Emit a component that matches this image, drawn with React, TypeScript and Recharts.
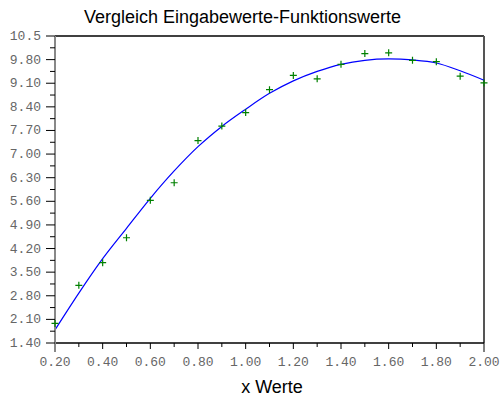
import React from "react";
import {
  ComposedChart,
  XAxis,
  YAxis,
  Line,
  Scatter,
  ReferenceLine,
} from "recharts";

// x positions (0.2 .. 2.0)
const xValues = [
  0.2, 0.3, 0.4, 0.5, 0.6, 0.7, 0.8, 0.9, 1.0, 1.1, 1.2, 1.3, 1.4, 1.5, 1.6,
  1.7, 1.8, 1.9, 2.0,
];

// green crosses: Eingabewerte
const inputValues = [
  1.98, 3.11, 3.78, 4.52, 5.63, 6.15, 7.4, 7.83, 8.23, 8.91, 9.33, 9.23, 9.66,
  9.98, 10.0, 9.78, 9.74, 9.31, 9.11,
];

// blue curve: Funktionswerte
const functionValues = [
  1.79, 2.88, 3.9, 4.8, 5.69, 6.5, 7.22, 7.82, 8.33, 8.8, 9.17, 9.45, 9.66,
  9.78, 9.82, 9.79, 9.7, 9.47, 9.19,
];

const xTicks = xValues;
const xTickLabels = [
  "0.20", "", "0.40", "", "0.60", "", "0.80", "", "1.00", "", "1.20", "",
  "1.40", "", "1.60", "", "1.80", "", "2.00",
];

const yTicks = [
  1.4, 1.75, 2.1, 2.45, 2.8, 3.15, 3.5, 3.85, 4.2, 4.55, 4.9, 5.25, 5.6, 5.95,
  6.3, 6.65, 7.0, 7.35, 7.7, 8.05, 8.4, 8.75, 9.1, 9.45, 9.8, 10.15, 10.5,
];
const yTickLabels = [
  "1.40", "", "2.10", "", "2.80", "", "3.50", "", "4.20", "", "4.90", "",
  "5.60", "", "6.30", "", "7.00", "", "7.70", "", "8.40", "", "9.10", "",
  "9.80", "", "10.5",
];

const points = xValues.map((x, i) => ({ x, y: inputValues[i] }));
const curve = xValues.map((x, i) => ({ x, y: functionValues[i] }));

const tickFont = {
  fontFamily: "'Liberation Mono', 'Courier New', monospace",
  fontSize: 13,
  fill: "#666",
};

function XTick(props: any) {
  const { x, y, index } = props;
  const label = xTickLabels[index];
  const edge = index === 0 || index === xTicks.length - 1;
  const len = edge ? 9 : label ? 6 : 4;
  return (
    <g>
      <line
        x1={x}
        x2={x}
        y1={y}
        y2={y + len}
        stroke={index === 0 ? "#888" : "#000"}
        strokeWidth={index === 0 ? 2 : 1}
      />
      {label && (
        <text x={x} y={y + 23} textAnchor='middle' {...tickFont}>
          {label}
        </text>
      )}
    </g>
  );
}

function YTick(props: any) {
  const { x, y, index } = props;
  const label = yTickLabels[index];
  const len = label ? 9 : 5;
  return (
    <g>
      <line x1={x - len} x2={x} y1={y} y2={y} stroke='#000' strokeWidth={1} />
      {label && (
        <text x={x - 14} y={y + 4} textAnchor='end' {...tickFont}>
          {label}
        </text>
      )}
    </g>
  );
}

function Cross(props: any) {
  const { cx, cy } = props;
  if (cx == null || cy == null) return null;
  return (
    <path
      d={`M${cx - 3.5},${cy}H${cx + 3.5}M${cx},${cy - 3.5}V${cy + 3.5}`}
      stroke='#008000'
      strokeWidth={1.2}
      fill='none'
    />
  );
}

export default function App() {
  return (
    <div
      style={{
        position: "absolute",
        left: 0,
        top: 0,
        width: 501,
        height: 396,
        background: "#fff",
      }}
    >
      <ComposedChart
        width={501}
        height={396}
        margin={{ top: 36, right: 17, left: 0, bottom: 0 }}
      >
        <XAxis
          dataKey='x'
          type='number'
          domain={[0.2, 2.0]}
          ticks={xTicks}
          interval={0}
          height={53}
          tickSize={0}
          tickMargin={0}
          tickLine={false}
          axisLine={{ stroke: "#000", strokeWidth: 1.5 }}
          tick={<XTick />}
        />
        <YAxis
          type='number'
          domain={[1.4, 10.5]}
          ticks={yTicks}
          interval={0}
          width={55}
          tickSize={0}
          tickMargin={0}
          tickLine={false}
          axisLine={{ stroke: "#888", strokeWidth: 2 }}
          tick={<YTick />}
        />
        <ReferenceLine y={10.5} stroke='#000' strokeWidth={1.5} />
        <ReferenceLine x={2.0} stroke='#555' strokeWidth={2} />
        <Line
          data={curve}
          dataKey='y'
          type='monotone'
          stroke='#0000ff'
          strokeWidth={1.2}
          dot={false}
          activeDot={false}
          isAnimationActive={false}
        />
        <Scatter
          data={points}
          dataKey='y'
          shape={<Cross />}
          isAnimationActive={false}
        />
      </ComposedChart>
      <svg
        width={501}
        height={396}
        style={{ position: "absolute", left: 0, top: 0, pointerEvents: "none" }}
      >
        <text
          x={242.5}
          y={23}
          textAnchor='middle'
          fontFamily="'Liberation Sans', Arial, sans-serif"
          fontSize={18}
          fill='#000'
        >
          Vergleich Eingabewerte-Funktionswerte
        </text>
        <text
          x={272}
          y={393}
          textAnchor='middle'
          fontFamily="'Liberation Sans', Arial, sans-serif"
          fontSize={18}
          fill='#000'
        >
          x Werte
        </text>
      </svg>
    </div>
  );
}
